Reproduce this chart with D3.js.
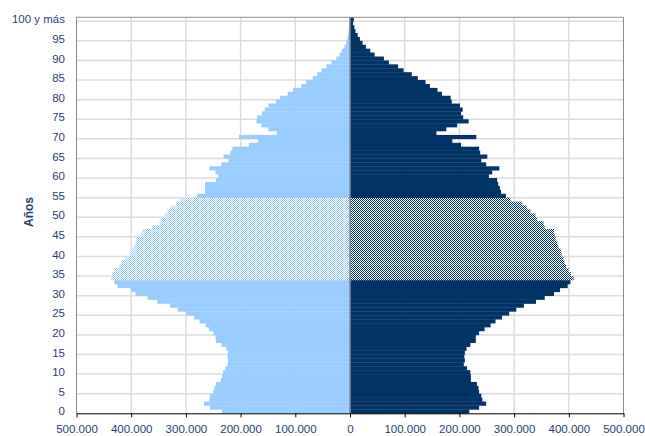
<!DOCTYPE html>
<html>
<head>
<meta charset="utf-8">
<script src="https://cdn.jsdelivr.net/npm/d3@7"></script>
<style>
  body { margin: 0; background: #fff; }
  svg text { font-family: "Liberation Sans", Arial, sans-serif; }
</style>
</head>
<body>
<svg id="chart" width="645" height="436"></svg>
<script>
// edades 0..100 ("100 y más")
var ages = d3.range(0, 101).map(function (d) { return d === 100 ? '100 y más' : String(d) })

// izquierda (azul claro), miles
var varones = [234, 256, 267, 257, 256, 250, 248, 245, 236, 234,
  232, 228, 224, 223, 224, 223, 226, 235, 245, 246,
  250, 258, 264, 275, 285, 300, 315, 329, 352, 370,
  392, 401, 425, 431, 437, 435, 430, 422, 418, 411,
  403, 401, 396, 392, 391, 382, 380, 362, 348, 346,
  339, 334, 328, 318, 311, 279, 265, 265, 265, 245,
  241, 246, 257, 235, 222, 231, 219, 215, 185, 168,
  203, 134, 149, 162, 171, 170, 161, 156, 149, 135,
  128, 114, 104, 89, 80, 68, 60, 52, 43, 34,
  25, 19, 15, 10, 7, 5, 3.7, 2.5, 2, 1.5, 1.5]

// derecha (azul oscuro), miles
var mujeres = [218, 236, 249, 242, 240, 236, 235, 232, 221, 221,
  220, 214, 208, 210, 209, 210, 213, 220, 230, 230,
  236, 246, 257, 266, 278, 291, 304, 318, 340, 356,
  373, 384, 398, 403, 409, 404, 400, 395, 392, 390,
  387, 385, 381, 379, 376, 374, 373, 356, 354, 342,
  339, 330, 323, 315, 293, 285, 276, 274, 271, 269,
  254, 260, 273, 249, 240, 251, 238, 236, 203, 187,
  231, 158, 176, 196, 217, 207, 203, 206, 201, 186,
  184, 168, 160, 146, 138, 124, 113, 98, 88, 71,
  62, 45, 37, 29, 23, 18, 14, 10, 8, 5.5, 7]

var xTicks = [-500000, -400000, -300000, -200000, -100000, 0, 100000, 200000, 300000, 400000, 500000]
var yTickAges = d3.range(0, 101, 5)
var hatchFrom = 34, hatchTo = 54

var svg = d3.select('#chart')
var pLeft = 76.5, pRight = 623.5, pTop = 17.3, pBottom = 413.3
var labelColor = '#233f72'

var x = d3.scaleLinear().domain([-500000, 500000]).range([pLeft, pRight])
var y = d3.scaleBand().domain(ages).range([pBottom, pTop]).padding(0)

var loc = d3.formatLocale({ decimal: ',', thousands: '.', grouping: [3], currency: ['', ''] })
var fmt = loc.format(',d')

// patterns
var defs = svg.append('defs')
function checker(id, col) {
  var p = defs.append('pattern').attr('id', id)
    .attr('patternUnits', 'userSpaceOnUse').attr('width', 2).attr('height', 2)
  p.append('rect').attr('width', 2).attr('height', 2).attr('fill', '#fff')
  p.append('rect').attr('width', 1).attr('height', 1).attr('fill', col)
  p.append('rect').attr('x', 1).attr('y', 1).attr('width', 1).attr('height', 1).attr('fill', col)
}
checker('hatchL', '#99ccff')
checker('hatchR', '#003366')

// gridlines
svg.append('g').selectAll('line')
  .data(xTicks.slice(1, -1).filter(function (d) { return d !== 0 }))
  .enter().append('line')
  .attr('x1', function (d) { return x(d) }).attr('x2', function (d) { return x(d) })
  .attr('y1', pTop).attr('y2', pBottom)
  .attr('stroke', '#dcdcdc').attr('stroke-width', 1.5)

svg.append('g').selectAll('line')
  .data(yTickAges.filter(function (d) { return d > 0 }))
  .enter().append('line')
  .attr('x1', pLeft).attr('x2', pRight)
  .attr('y1', function (d) { return y(ages[d]) + y.bandwidth() })
  .attr('y2', function (d) { return y(ages[d]) + y.bandwidth() })
  .attr('stroke', '#dcdcdc').attr('stroke-width', 1.5)

function isHatch(i) { return i >= hatchFrom && i <= hatchTo }

svg.append('g').selectAll('rect')
  .data(varones)
  .enter().append('rect')
  .attr('x', function (d) { return x(-d * 1000) })
  .attr('width', function (d) { return x(0) - x(-d * 1000) })
  .attr('y', function (d, i) { return y(ages[i]) })
  .attr('height', y.bandwidth() + 0.3)
  .attr('fill', function (d, i) { return isHatch(i) ? 'url(#hatchL)' : '#99ccff' })

svg.append('g').selectAll('rect')
  .data(mujeres)
  .enter().append('rect')
  .attr('x', x(0))
  .attr('width', function (d) { return x(d * 1000) - x(0) })
  .attr('y', function (d, i) { return y(ages[i]) })
  .attr('height', y.bandwidth() + 0.3)
  .attr('fill', function (d, i) { return isHatch(i) ? 'url(#hatchR)' : '#003366' })

// plot border
svg.append('path')
  .attr('d', 'M' + pLeft + ',' + pBottom + 'V' + pTop + 'H' + pRight + 'V' + pBottom)
  .attr('fill', 'none').attr('stroke', '#8c8c8c').attr('stroke-width', 1)

// zero axis
svg.append('line')
  .attr('x1', x(0)).attr('x2', x(0)).attr('y1', pTop).attr('y2', pBottom)
  .attr('stroke', '#7f8a99').attr('stroke-width', 1.6)

// x axis
var xAxis = svg.append('g')
  .attr('transform', 'translate(0,' + pBottom + ')')
  .call(d3.axisBottom(x).tickValues(xTicks).tickSizeInner(4).tickSizeOuter(0)
    .tickFormat(function (d) { return fmt(Math.abs(d)) }))
xAxis.select('.domain').attr('stroke', '#000')
xAxis.selectAll('.tick line').attr('stroke', '#000')
xAxis.selectAll('text')
  .attr('y', 12).attr('dy', '0.71em')
  .attr('fill', labelColor).style('font-size', '11.5px')

// y labels
svg.append('g').selectAll('text')
  .data(yTickAges)
  .enter().append('text')
  .attr('x', 65)
  .attr('y', function (d) { return y(ages[d]) + y.bandwidth() / 2 })
  .attr('dy', '0.36em')
  .attr('text-anchor', 'end')
  .attr('fill', labelColor)
  .style('font-size', '11.5px')
  .text(function (d) { return ages[d] })

svg.append('text')
  .attr('transform', 'translate(33,212) rotate(-90)')
  .attr('text-anchor', 'middle')
  .attr('fill', labelColor)
  .style('font-size', '12px').style('font-weight', 'bold')
  .text('Años')
</script>
</body>
</html>
